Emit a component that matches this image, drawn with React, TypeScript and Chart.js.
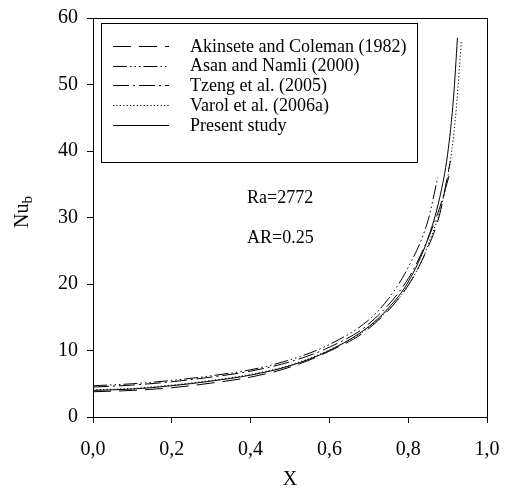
import React, { useEffect, useRef } from "react";
import { Chart, registerables } from "chart.js";

Chart.register(...registerables);

const xAkinsete = [0, 0.1, 0.2, 0.3, 0.4, 0.5, 0.6, 0.7, 0.8, 0.85, 0.88, 0.907];
const yAkinsete = [3.8, 4.0, 4.4, 5.1, 6.0, 7.5, 9.9, 13.3, 19.8, 25.5, 30.5, 38.5];

const xAsan = [0, 0.1, 0.2, 0.3, 0.4, 0.5, 0.6, 0.7, 0.75, 0.8, 0.85, 0.875];
const yAsan = [4.7, 5.0, 5.5, 6.2, 7.1, 8.6, 10.9, 14.6, 17.8, 22.5, 29.5, 36];

const xTzeng = [0, 0.1, 0.2, 0.3, 0.4, 0.5, 0.6, 0.7, 0.8, 0.85, 0.88, 0.905];
const yTzeng = [4.5, 4.8, 5.3, 6.0, 6.9, 8.3, 10.5, 14.0, 20.8, 26.8, 31.5, 36.5];

const xVarol = [0, 0.1, 0.2, 0.3, 0.4, 0.5, 0.6, 0.7, 0.8, 0.85, 0.9, 0.92, 0.935];
const yVarol = [4.1, 4.3, 4.8, 5.5, 6.4, 7.8, 10.1, 13.5, 19.8, 25.8, 36, 45, 56.5];

const xPresent = [0, 0.1, 0.2, 0.3, 0.4, 0.5, 0.6, 0.7, 0.75, 0.8, 0.85, 0.88, 0.9, 0.915, 0.925];
const yPresent = [4.0, 4.2, 4.7, 5.4, 6.3, 7.7, 10.0, 13.6, 16.4, 20.3, 26.8, 33, 39.5, 48, 57];

const seriesNames = [
  "Akinsete and Coleman (1982)",
  "Asan and Namli (2000)",
  "Tzeng et al. (2005)",
  "Varol et al. (2006a)",
  "Present study",
];
const annotations = ["Ra=2772", "AR=0.25"];

const FONT = "'Liberation Serif', 'Times New Roman', serif";

const pts = (xs: number[], ys: number[]) => xs.map((x, i) => ({ x, y: ys[i] }));

const dashes = [[18, 8], [14, 3, 1.5, 3, 1.5, 3, 1.5, 3], [16, 4, 2, 4], [1.2, 2.2], []];

export default function App() {
  const ref = useRef<HTMLCanvasElement>(null);
  useEffect(() => {
    const ctxEl = ref.current!;
    const allX = [xAkinsete, xAsan, xTzeng, xVarol, xPresent];
    const allY = [yAkinsete, yAsan, yTzeng, yVarol, yPresent];
    const datasets = seriesNames.map((name, i) => ({
      label: name,
      data: pts(allX[i], allY[i]),
      borderColor: "#000",
      borderWidth: 1,
      borderDash: dashes[i],
      pointRadius: 0,
      fill: false,
      cubicInterpolationMode: "monotone" as const,
    }));

    const decor = {
      id: "decor",
      afterDraw(chart: any) {
        const { ctx, chartArea: a } = chart;
        ctx.save();
        // frame
        ctx.strokeStyle = "#000";
        ctx.lineWidth = 1;
        ctx.setLineDash([]);
        ctx.strokeRect(a.left + 0.5, a.top + 0.5, a.right - a.left, a.bottom - a.top);
        // legend
        const lx = 101, ly = 23, lw = 316, lh = 139;
        ctx.strokeRect(lx + 0.5, ly + 0.5, lw, lh);
        ctx.font = `18px ${FONT}`;
        ctx.fillStyle = "#000";
        ctx.textBaseline = "middle";
        ctx.textAlign = "left";
        chart.data.datasets.forEach((ds: any, i: number) => {
          const y = 46 + i * 19.7;
          ctx.beginPath();
          ctx.setLineDash(ds.borderDash || []);
          ctx.moveTo(113, Math.round(y) + 0.5);
          ctx.lineTo(169, Math.round(y) + 0.5);
          ctx.stroke();
          ctx.setLineDash([]);
          ctx.fillText(ds.label, 190, y + 1);
        });
        // annotations
        ctx.font = `18px ${FONT}`;
        ctx.fillText(annotations[0], 247, 198);
        ctx.fillText(annotations[1], 247, 238);
        // y title Nu_b
        ctx.translate(23, 212);
        ctx.rotate(-Math.PI / 2);
        ctx.font = `20px ${FONT}`;
        ctx.textAlign = "left";
        const w1 = ctx.measureText("Nu").width;
        ctx.font = `15px ${FONT}`;
        const w2 = ctx.measureText("b").width;
        const start = -(w1 + w2) / 2;
        ctx.font = `20px ${FONT}`;
        ctx.fillText("Nu", start, 0);
        ctx.font = `15px ${FONT}`;
        ctx.fillText("b", start + w1, 5);
        ctx.restore();
      },
    };

    const chart = new Chart(ctxEl, {
      type: "line",
      data: { datasets },
      options: {
        animation: false,
        responsive: false,
        layout: { padding: { top: 18, right: 18, left: 0, bottom: 0 } },
        plugins: { legend: { display: false }, tooltip: { enabled: false } },
        scales: {
          x: {
            type: "linear",
            min: 0,
            max: 1,
            afterFit: (s: any) => { s.height = 79; s.paddingLeft = 0; s.paddingRight = 0; },
            ticks: {
              stepSize: 0.2,
              color: "#000",
              padding: 15,
              maxRotation: 0,
              font: { family: FONT, size: 20 },
              callback: (v: any) => Number(v).toFixed(1).replace(".", ","),
            },
            grid: { drawOnChartArea: false, drawTicks: true, tickLength: 6, color: "#000" },
            border: { display: true, color: "#000" },
            title: { display: true, text: "X", color: "#000", font: { family: FONT, size: 20 }, padding: { top: 14 } },
          },
          y: {
            type: "linear",
            min: 0,
            max: 60,
            afterFit: (s: any) => { s.width = 93; s.paddingTop = 0; s.paddingBottom = 0; },
            ticks: {
              stepSize: 10,
              color: "#000",
              padding: 9,
              font: { family: FONT, size: 20 },
            },
            grid: { drawOnChartArea: false, drawTicks: true, tickLength: 6, color: "#000" },
            border: { display: true, color: "#000" },
          },
        },
      },
      plugins: [decor],
    });
    return () => chart.destroy();
  }, []);
  return (
    <div style={{ position: "absolute", left: 0, top: 0, width: 505, height: 496, background: "#fff" }}>
      <canvas ref={ref} width={505} height={496} style={{ display: "block" }} />
    </div>
  );
}
